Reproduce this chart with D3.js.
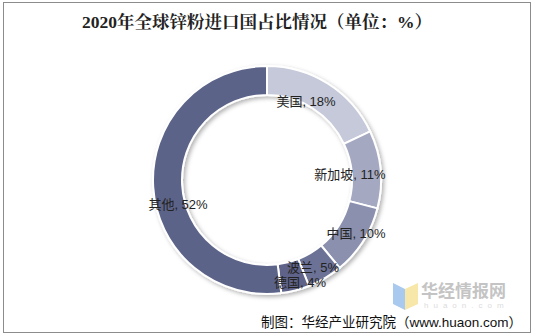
<!DOCTYPE html>
<html><head><meta charset="utf-8">
<script src="https://cdn.jsdelivr.net/npm/d3@7"></script>
<style>body{margin:0;background:#fff}svg{display:block}</style>
</head><body>
<script>
const categories = ["美国","新加坡","中国","波兰","德国","其他"];
const values = [18,11,10,5,4,52];
const colors = ["#c5c9d9","#a4a8c1","#8a90ae","#6c7296","#5e6489","#5c6389"];
const labelPos = [[306,101],[350,174],[356,233],[313,267],[300,282],[178,204]];

const W=535,H=336;
const svg=d3.select("body").append("svg").attr("width",W).attr("height",H)
  .style("font-family","'Liberation Sans','Noto Sans CJK SC',sans-serif");
const defs=svg.append("defs");
const f=defs.append("filter").attr("id","sh").attr("x","-20%").attr("y","-20%").attr("width","140%").attr("height","140%");
f.append("feDropShadow").attr("dx",2).attr("dy",2).attr("stdDeviation",2).attr("flood-color","#000").attr("flood-opacity",0.3);

svg.append("rect").attr("x",3.5).attr("y",2.5).attr("width",527).attr("height",330)
  .attr("fill","#fff").attr("stroke","#8c8c8c").attr("stroke-width",1);

svg.append("text").attr("x",257).attr("y",28).attr("text-anchor","middle")
  .attr("font-size",17.5).attr("font-weight","bold").attr("fill","#222")
  .style("font-family","'Liberation Serif','Noto Serif CJK SC','Noto Sans CJK SC',serif")
  .text("2020年全球锌粉进口国占比情况（单位：%）");

const cx=267,cy=180;
const pie=d3.pie().sort(null).value(d=>d)(values);
const arc=d3.arc().innerRadius(85).outerRadius(114).padAngle(0);
const g=svg.append("g").attr("transform",`translate(${cx},${cy})`);
g.append("g").attr("filter","url(#sh)").selectAll("path").data(pie).join("path")
  .attr("d",arc).attr("fill",(d,i)=>colors[i]).attr("stroke","#fff").attr("stroke-width",2);

svg.selectAll("text.lab").data(categories).join("text").attr("class","lab")
  .attr("x",(d,i)=>labelPos[i][0]).attr("y",(d,i)=>labelPos[i][1]+4.5)
  .attr("text-anchor","middle").attr("font-size",13).attr("fill","#222")
  .text((d,i)=>`${d}, ${values[i]}%`);

// watermark
const wm=svg.append("g");
wm.append("path").attr("d","M393,283 L405,289 L405,310 L393,304 Z").attr("fill","#a9c9ef");
wm.append("path").attr("d","M405,289 L418,283 L418,304 L405,310 Z").attr("fill","#f7e7a8");
wm.append("text").attr("x",421).attr("y",297).attr("font-size",17).attr("font-weight","bold")
  .attr("fill","#c4c4c4").style("font-family","'Noto Sans CJK SC',sans-serif").text("华经情报网");
wm.append("text").attr("x",424).attr("y",308).attr("font-size",8).attr("fill","#dcdcdc")
  .attr("letter-spacing",5).text("huaon.com");

svg.append("text").attr("x",522).attr("y",327).attr("text-anchor","end")
  .attr("font-size",13.5).attr("fill","#111").text("制图：华经产业研究院（www.huaon.com）");
</script>
</body></html>
